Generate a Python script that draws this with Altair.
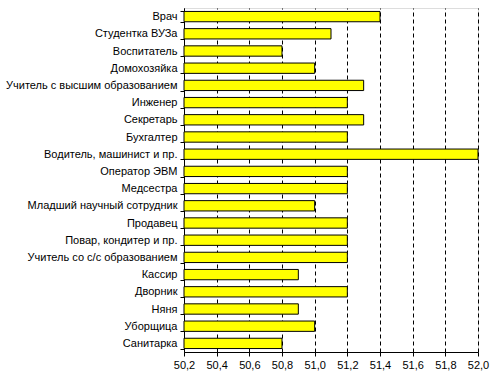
import altair as alt
import pandas as pd

categories = [
    "Врач", "Студентка ВУЗа", "Воспитатель", "Домохозяйка",
    "Учитель с высшим образованием", "Инженер", "Секретарь", "Бухгалтер",
    "Водитель, машинист и пр.", "Оператор ЭВМ", "Медсестра",
    "Младший научный сотрудник", "Продавец", "Повар, кондитер и пр.",
    "Учитель со с/с образованием", "Кассир", "Дворник", "Няня",
    "Уборщица", "Санитарка",
]
values = [51.4, 51.1, 50.8, 51.0, 51.3, 51.2, 51.3, 51.2, 52.0, 51.2, 51.2,
          51.0, 51.2, 51.2, 51.2, 50.9, 51.2, 50.9, 51.0, 50.8]
x_ticks = [50.2, 50.4, 50.6, 50.8, 51.0, 51.2, 51.4, 51.6, 51.8, 52.0]

df = pd.DataFrame({"cat": categories, "val": values})

FONT = "Liberation Sans"

chart = alt.Chart(df).mark_bar(
    color="#FFFF00", stroke="black", strokeWidth=1
).encode(
    y=alt.Y("cat:N", sort=categories,
            scale=alt.Scale(paddingInner=0.4, paddingOuter=0.2),
            axis=alt.Axis(title=None, tickBand="extent", grid=False,
                          domainColor="black", tickColor="black",
                          tickSize=4, labelPadding=3,
                          labelFont=FONT, labelFontSize=11, labelColor="black",
                          labelLimit=300)),
    x=alt.X("val:Q",
            scale=alt.Scale(domain=[50.2, 52.0], zero=False, nice=False),
            axis=alt.Axis(title=None, values=x_ticks,
                          labelExpr="replace(format(datum.value, '.1f'), '.', ',')",
                          grid=True, gridColor="black", gridDash=[4, 3],
                          gridWidth=1,
                          domainColor="black", tickColor="black", tickSize=4,
                          labelFont=FONT, labelFontSize=11, labelColor="black",
                          labelPadding=3, labelFlush=False)),
    x2=alt.datum(50.2),
).properties(
    width=294, height=344,
    autosize=alt.AutoSizeParams(type="none"),
    padding={"left": 184, "top": 8, "right": 15, "bottom": 23},
).configure_view(stroke=None).configure(background="white")

chart.save("out.html", embed_options={"renderer": "svg", "actions": False})
